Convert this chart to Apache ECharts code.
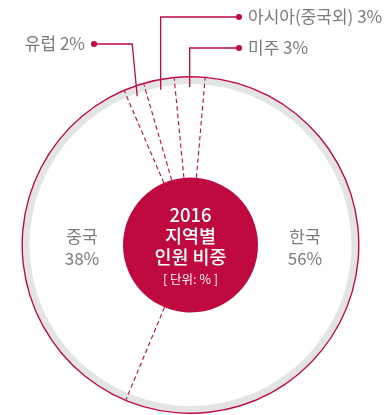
<!DOCTYPE html>
<html>
<head>
<meta charset="utf-8">
<script src="https://cdn.jsdelivr.net/npm/echarts@6/dist/echarts.min.js"></script>
<style>
  html, body { margin: 0; padding: 0; background: #fff; }
  #chart { width: 387px; height: 415px; }
</style>
</head>
<body>
<div id="chart"></div>
<script>
// 2016 share of staff by region (%)
const regions = ['한국', '중국', '유럽', '아시아(중국외)', '미주'];
const shares = [56, 38, 2, 3, 3];

// Text shown inside the centre badge
const centerLines = ['2016', '지역별', '인원 비중'];
const unitLabel = '[ 단위: % ]';

const CRIMSON = '#be0a3e';
const RING_GRAY = '#e3e4e6';
const TEXT_GRAY = '#7b7b7b';
const FONT = '"Noto Sans CJK KR", "Noto Sans", sans-serif';

const CX = 190.5, CY = 245;       // pie centre (px)
const R_OUT = 169, R_LINE = 167.6, R_RING = 161, R_BADGE = 67.5, R_LABEL = 158;
const START = 85;

// Label placement: big slices carry their label inside, small ones use callouts
const insideOffsetX = { '한국': 114.5, '중국': -108.5 };
const callouts = {
  '유럽': { side: 'left', x: 97, y: 44 },
  '아시아(중국외)': { side: 'right', x: 236, y: 17 },
  '미주': { side: 'right', x: 236, y: 48 }
};

const total = shares.reduce((a, b) => a + b, 0);
const boundaries = [];
shares.reduce((acc, v) => { boundaries.push(acc); return acc + v; }, 0);

// Dashed dividers between slices, drawn once per boundary in polar space
const dividerSeries = boundaries.map(b => ({
  type: 'line',
  coordinateSystem: 'polar',
  z: 2,
  silent: true,
  symbol: 'none',
  animation: false,
  lineStyle: { color: CRIMSON, width: 1.1, type: [4.5, 3] },
  data: [[0, b], [1, b]]
}));

const ringBase = {
  type: 'pie',
  center: [CX, CY],
  silent: true,
  startAngle: START,
  label: { show: false },
  labelLine: { show: false },
  emphasis: { disabled: true },
  animation: false
};

const sliceData = regions.map((name, i) => {
  const inside = insideOffsetX[name] !== undefined;
  if (inside) {
    return {
      name, value: shares[i],
      label: {
        position: 'inside',
        formatter: name + '\n' + shares[i] + '%',
        color: TEXT_GRAY, fontSize: 17, lineHeight: 22, fontFamily: FONT
      },
      labelLine: { show: false }
    };
  }
  const c = callouts[name];
  const txt = '{t|' + name + ' ' + shares[i] + '%}';
  return {
    name, value: shares[i],
    label: {
      position: 'outside',
      formatter: c.side === 'left' ? txt + '{dot| }' : '{dot| }' + txt
    },
    labelLine: { show: true }
  };
});

const chart = echarts.init(document.getElementById('chart'), null, { renderer: 'canvas' });

const option = {
  animation: false,
  polar: { center: [CX, CY], radius: [0, R_LINE] },
  angleAxis: {
    type: 'value', min: 0, max: total, startAngle: START, clockwise: true,
    show: false
  },
  radiusAxis: { type: 'value', min: 0, max: 1, show: false },
  series: [
    // light gray band around the rim
    Object.assign({}, ringBase, {
      z: 1, radius: [R_RING, R_LINE],
      data: [{ value: 1, itemStyle: { color: RING_GRAY } }]
    }),
    ...dividerSeries,
    // thin crimson outline
    Object.assign({}, ringBase, {
      z: 3, radius: [R_LINE, R_OUT],
      data: [{ value: 1, itemStyle: { color: CRIMSON } }]
    }),
    // centre badge
    Object.assign({}, ringBase, {
      z: 4, radius: [0, R_BADGE],
      label: {
        show: true,
        position: 'center',
        padding: [5, 0, 0, 0],
        formatter: centerLines.map(l => '{a|' + l + '}').join('\n') + '\n{b|' + unitLabel + '}',
        rich: {
          a: { color: '#fff', fontSize: 18.5, lineHeight: 21, fontWeight: 500, fontFamily: FONT },
          b: { color: '#fff', fontSize: 12.5, lineHeight: 23, fontFamily: FONT }
        }
      },
      data: [{ value: 1, itemStyle: { color: CRIMSON } }]
    }),
    // slices: transparent fill, carry labels and callout lines
    {
      type: 'pie',
      z: 5,
      center: [CX, CY],
      radius: [0, R_LABEL],
      startAngle: START,
      clockwise: true,
      silent: true,
      animation: false,
      avoidLabelOverlap: false,
      emphasis: { disabled: true },
      itemStyle: { color: 'rgba(0,0,0,0)' },
      label: {
        show: true,
        color: TEXT_GRAY,
        fontFamily: FONT,
        rich: {
          t: { color: TEXT_GRAY, fontSize: 17, fontFamily: FONT, padding: [0, 6, 0, 6] },
          dot: { width: 6, height: 6, borderRadius: 3, backgroundColor: CRIMSON }
        }
      },
      labelLine: { show: true, lineStyle: { color: CRIMSON, width: 1.3 } },
      labelLayout: function (p) {
        const name = regions[p.dataIndex];
        if (insideOffsetX[name] !== undefined) {
          return { x: CX + insideOffsetX[name], y: CY + 3, align: 'center', verticalAlign: 'middle' };
        }
        const c = callouts[name];
        const s = p.labelLinePoints ? p.labelLinePoints[0] : [CX, CY - R_LABEL];
        if (c.side === 'right') {
          return {
            x: c.x, y: c.y, align: 'left', verticalAlign: 'middle',
            labelLinePoints: [s, [s[0], c.y], [c.x + 3, c.y]]
          };
        }
        return {
          x: c.x, y: c.y, align: 'right', verticalAlign: 'middle',
          labelLinePoints: [s, [s[0] - 5, c.y], [c.x - 3, c.y]]
        };
      },
      data: sliceData
    }
  ]
};

chart.setOption(option);
</script>
</body>
</html>
